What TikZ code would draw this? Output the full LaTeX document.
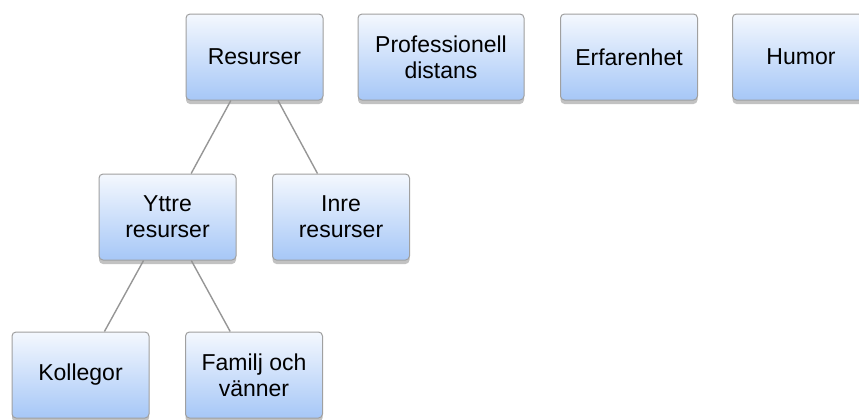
\documentclass[tikz,border=0pt]{standalone}
\usepackage{fontspec}
\setmainfont{Liberation Sans}
\usetikzlibrary{shadows}
\definecolor{boxtop}{RGB}{244,248,254}
\definecolor{boxbottom}{RGB}{166,199,247}
\definecolor{boxline}{RGB}{160,160,160}
\definecolor{edgegray}{RGB}{150,150,150}
\tikzset{
  box/.style={rectangle, rounded corners=2pt, draw=boxline, line width=0.5pt,
    top color=boxtop, bottom color=boxbottom,
    drop shadow={shadow xshift=0pt, shadow yshift=-2pt, opacity=0.4, fill=black!60},
    minimum width=68.5pt, minimum height=43pt, inner sep=0pt, align=center,
    font=\fontsize{11.5}{13}\selectfont},
  edge/.style={draw=edgegray, line width=0.7pt}
}
\begin{document}
\begin{tikzpicture}[x=0.5pt, y=-0.5pt]
      \useasboundingbox (0,0) rectangle (859,419);
      \draw
        (254.5,57) node[box] (resurser){Resurser}
        (441,57) node[box, minimum width=83pt] (distans){Professionell\\distans}
        (629,57) node[box] (erfarenhet){Erfarenhet}
        (801,57) node[box] (humor){Humor}
        (167.5,217) node[box] (yttre){Yttre\\resurser}
        (341,217) node[box] (inre){Inre\\resurser}
        (80.5,375) node[box] (kollegor){Kollegor}
        (254,375) node[box] (familj){Familj och\\vänner};
      \begin{scope}[edge]
        \draw (resurser) to (yttre);
        \draw (resurser) to (inre);
        \draw (yttre) to (kollegor);
        \draw (yttre) to (familj);
      \end{scope}
    \end{tikzpicture}
\end{document}
